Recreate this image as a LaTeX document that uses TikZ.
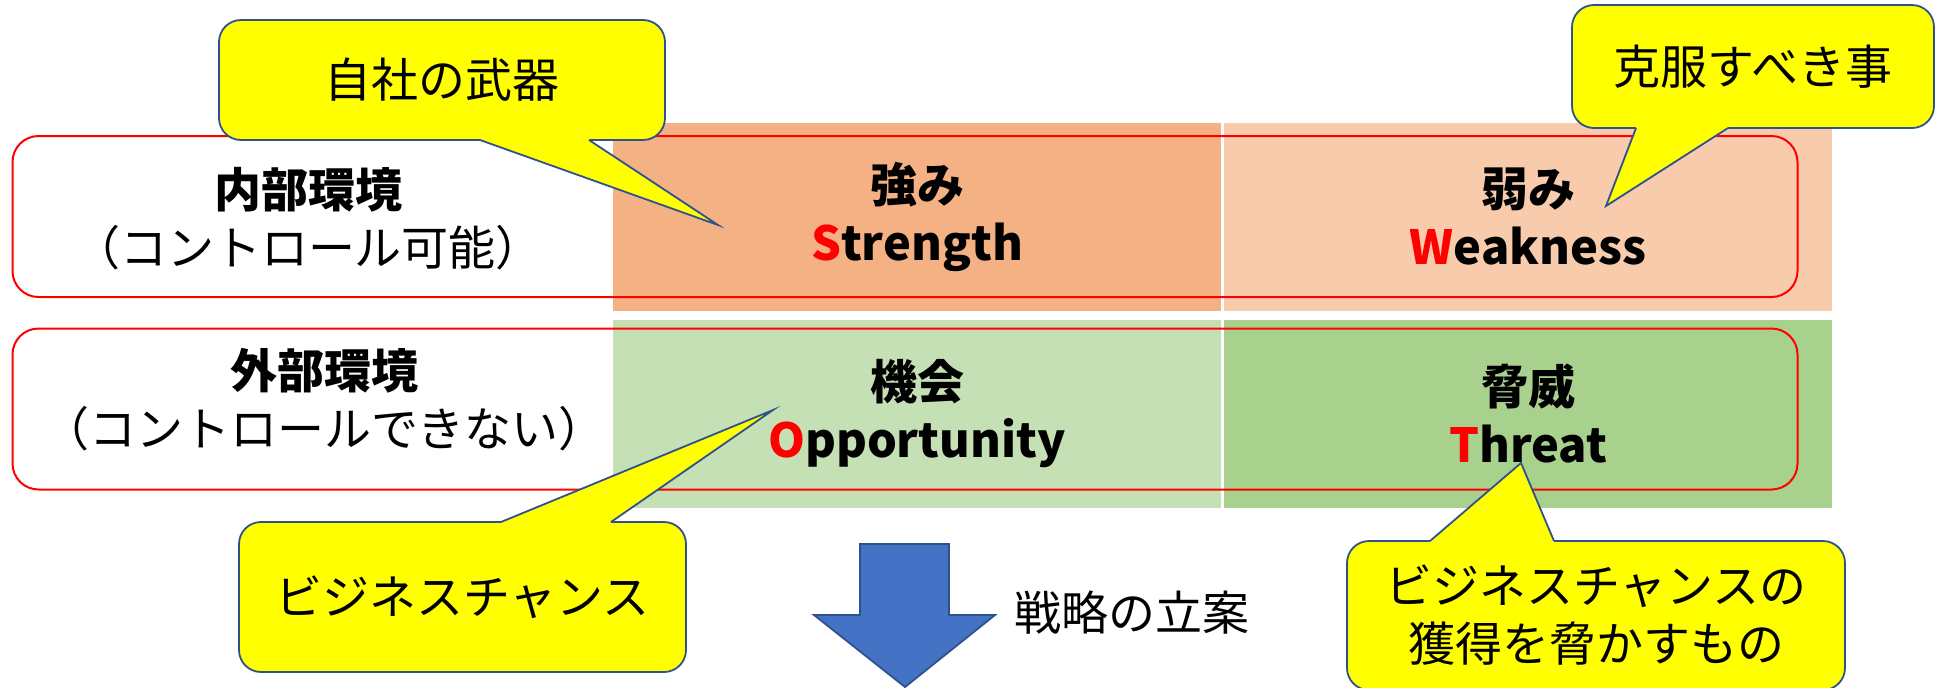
\documentclass[tikz,border=0pt]{standalone}
\usepackage{fontspec}
\setmainfont{Noto Sans CJK JP}
\usepackage{tikz}
\definecolor{strS}{HTML}{F4B183}
\definecolor{weakW}{HTML}{F8CBAD}
\definecolor{oppO}{HTML}{C5E0B4}
\definecolor{thrT}{HTML}{A9D18E}
\definecolor{callfill}{HTML}{FFFF00}
\definecolor{calledge}{HTML}{2F528F}
\definecolor{arrowfill}{HTML}{4472C4}

\begin{document}
\begin{tikzpicture}[x=0.5pt,y=-0.5pt,
	cell/.style={inner sep=0pt,minimum width=304pt,minimum height=94pt,align=center,font=\fontsize{23.5}{29}\selectfont\bfseries},
	envbox/.style={draw=red,line width=1pt,rounded corners=13pt,minimum width=892.5pt,minimum height=80.5pt},
	envlabel/.style={align=center,font=\fontsize{23.5}{29}\selectfont},
	callout/.style={fill=callfill,draw=calledge,line width=0.9pt,rounded corners=11pt,align=center,font=\fontsize{23.5}{29}\selectfont},
	pointer/.style={fill=callfill},
	pointeredge/.style={draw=calledge,line width=0.9pt},
	bigarrow/.style={fill=arrowfill,draw=calledge,line width=0.9pt}]
	\useasboundingbox (0,0) rectangle (1939,687);
	\clip (0,0) rectangle (1939,687);

	\node[cell,fill=strS] (S) at (917,217)     {強み\\\textcolor{red}{S}trength};
	\node[cell,fill=weakW] (W) at (1528,217)   {弱み\\\textcolor{red}{W}eakness};
	\node[cell,fill=oppO] (O) at (917,413.5)   {機会\\\textcolor{red}{O}pportunity};
	\node[cell,fill=thrT] (T) at (1528,413.5)  {脅威\\\textcolor{red}{T}hreat};

	\node[envbox] (inner) at (905,216.5) {};
	\node[envbox] (outer) at (905,409) {};
	\node[envlabel] (innerlbl) at (308,219) {\textbf{内部環境}\\（コントロール可能）};
	\node[envlabel] (outerlbl) at (324,400) {\textbf{外部環境}\\（コントロールできない）};

	\node[callout,minimum width=223pt,minimum height=60pt] (weapon) at (442,80) {自社の武器};
	\coordinate (weapontip) at (718,225);
	\fill[pointer] (480,132) -- (480,140) -- (weapontip) -- (589,140) -- (589,132) -- cycle;
	\draw[pointeredge] (480,140) -- (weapontip) -- (589,140);

	\node[callout,minimum width=181pt,minimum height=61.5pt] (overcome) at (1753,66.5) {克服すべき事};
	\coordinate (overcometip) at (1606,206);
	\fill[pointer] (1636,124) -- (1636,128) -- (overcometip) -- (1728,128) -- (1728,124) -- cycle;
	\draw[pointeredge] (1636,128) -- (overcometip) -- (1728,128);

	\node[callout,minimum width=223.5pt,minimum height=75pt] (chance) at (462.5,597) {ビジネスチャンス};
	\coordinate (chancetip) at (773,410);
	\fill[pointer] (501,526) -- (501,522) -- (chancetip) -- (611,522) -- (611,526) -- cycle;
	\draw[pointeredge] (501,522) -- (chancetip) -- (611,522);

	\node[callout,minimum width=249pt,minimum height=74.5pt] (threaten) at (1596,615.5) {ビジネスチャンスの\\獲得を脅かすもの};
	\coordinate (threatentip) at (1521,463);
	\fill[pointer] (1430,545) -- (1430,541) -- (threatentip) -- (1554,541) -- (1554,545) -- cycle;
	\draw[pointeredge] (1430,541) -- (threatentip) -- (1554,541);

	\filldraw[bigarrow] (860,544) -- (949,544) -- (949,615) -- (995,615) -- (905,687) -- (814,615) -- (860,615) -- cycle;
	\node[font=\fontsize{23.5}{29}\selectfont] (plan) at (1132,613) {戦略の立案};
\end{tikzpicture}
\end{document}
